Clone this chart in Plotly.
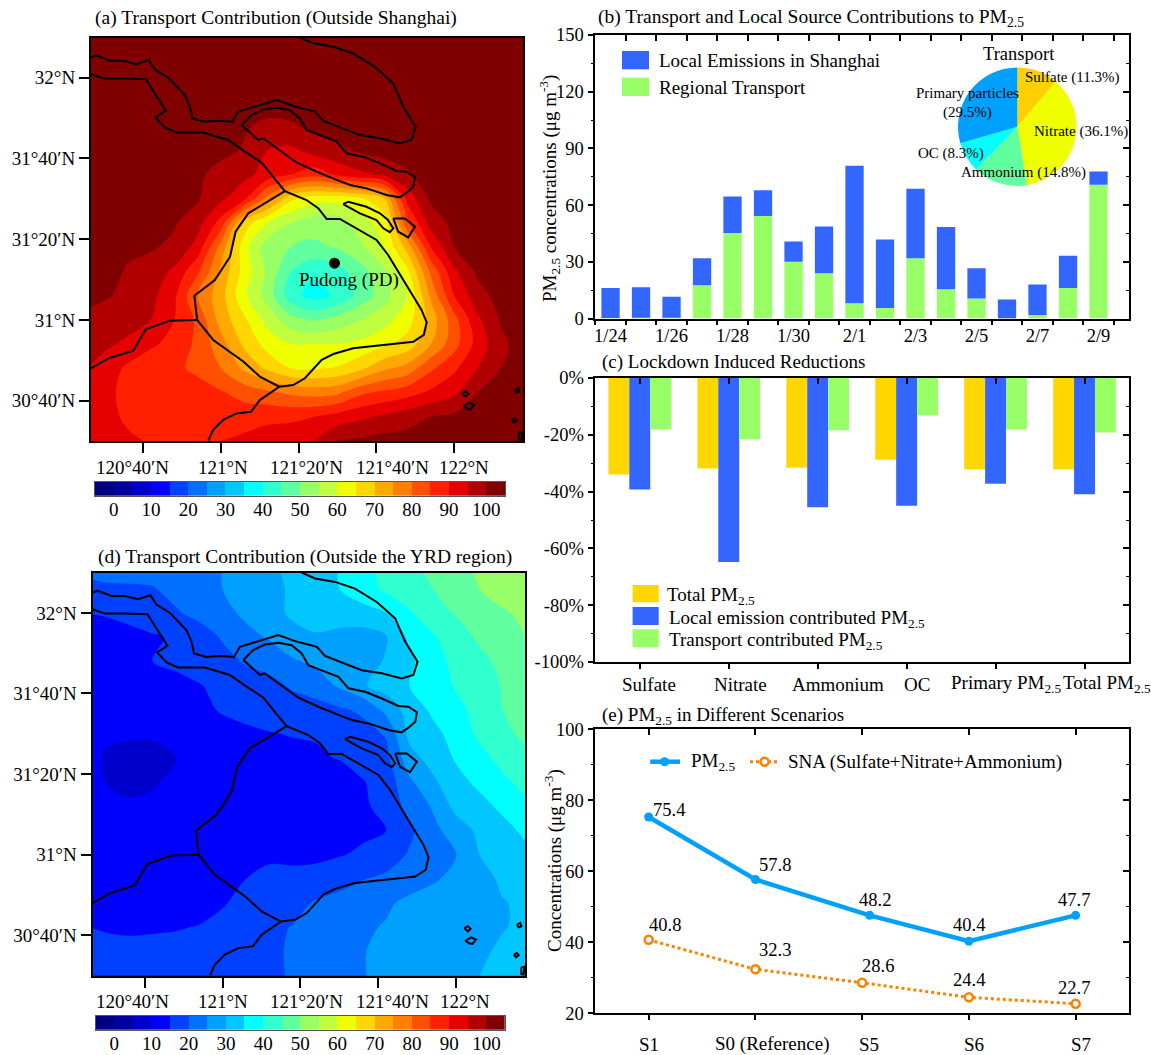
import plotly.graph_objects as go

W, H = 1151, 1055
FONT = "Liberation Serif"

# ---------- data ----------
lon_grid = [120.4, 120.5, 120.6, 120.7, 120.8, 120.9, 121.0, 121.1, 121.2, 121.3,
            121.4, 121.5, 121.6, 121.7, 121.8, 121.9, 122.0, 122.1, 122.2, 122.3]
lat_grid = [32.2, 32.1, 32.0, 31.9, 31.8, 31.7, 31.6, 31.5, 31.4, 31.3, 31.2, 31.1,
            31.0, 30.9, 30.8, 30.7, 30.6, 30.5]

transport_outside_shanghai = [
    [102]*20,
    [102]*20,
    [102]*20,
    [102]*20,
    [102,102,102,102,102,102,102,100.5,99,99.5,101,102,102,102,102,102,102,102,102,102],
    [102,102,102,102,102,102,101.5,99.5,95,94,97,99,101,102,102,102,102,102,102,102],
    [102,102,102,102,102,101,98,96.5,93,90,87,91,94,96,99.5,102,102,102,102,102],
    [102,102,102,102,102,100.5,96,91,78,66,62,62,64,70,92,101,102,102,102,102],
    [102,102,102,101.5,100.5,97,88,68,60,55,52,52,58,62,84,97,101.5,102,102,102],
    [102,102,101,100.5,99,93,78,62,52,50,49,50.5,54,60,72,90,100,102,102,102],
    [102,102,99.5,98,94,86,74,63,54,45,41,43,48,54,64,81,94,101,102,102],
    [102,100.5,99,96.5,91,80,72,61,53,42,38,41,47,53,60,76,90,98,102,102],
    [99,98,97,95,90,84,73,66,58,52,49.5,52,55,58,63,72,83,94,100.5,102],
    [97,96,94,91,88,84,77,69,63,60,60,60,61,64,67,75,83,92,99,102],
    [96,93,89,86,86,84,80,74,69,65,64.5,65.5,69,74,77,84,89,95,100,102],
    [95,92,88,86,86.5,87,85.5,83,81,79,78,79,84,86,88,91,94,100,102,102],
    [95,92,89,86.5,87,88,88,88,89,89,90,92,94,96,98,100,101,102,102,102],
    [95.5,93,91,89.5,89,89,90,91,92,93,95,100,101,102,102,102,102,102,102,102],
]

transport_outside_yrd = [
    [21,21.5,22,22.5,23,23.5,25,27,29,32,34,35,38.5,41,44,46.5,49,50.5,52,54],
    [19,19.5,19.5,19.7,21.5,23.5,25,27,29,30.5,33,35,38,41,43,45,48,50,52,54],
    [15,15.5,16.5,18,19.5,21.5,23.5,26,28,31,32,32.5,33,35,39.5,43,45.5,47.5,49.5,51],
    [12,12.5,13.5,14.5,15.5,17.5,20.5,23.5,25.5,28,29.5,28.5,28,29.5,36,39.5,42.5,46,48,50],
    [11,11,12,15,16.5,18,18.5,20.5,22,24.5,26,27,27.5,30.5,34,38,41.5,43.5,46.5,49],
    [11,11,11.5,12,13,14.7,16.5,17.5,18.5,20.7,22.5,25.7,29.5,32,35,37,40.5,43,45.3,48],
    [10.5,10.5,11,11.5,12,13,15.8,16.5,17,17.5,18,19.3,21,26.5,32,36,38.8,41.5,45,47],
    [10.7,10.6,10.6,10.6,10.6,11,12,14,14.8,15.2,15.3,17,18,20.5,31.5,33.5,37,41,44,46],
    [12,9.6,8.5,8.5,10,11,12.5,13.5,13.5,14,14.5,15.2,17,18.5,28,32,35.5,38.5,41.5,44],
    [12,9.9,8.8,9.5,11,12.5,12.8,12,11.5,11.5,12,13,14.7,17,24,29,33.5,36,39,41.5],
    [11,11,10.7,11,12,13,13.5,13,12.5,12,12,13,14,17,21.5,25.5,31.5,33.5,36,39],
    [11.5,12,12,12.5,13,13.7,14.5,14,13,12.5,13,13.5,14.2,15,19,23.5,27.5,31,33.5,36],
    [12,12.3,12.5,12.5,13,13.5,14.2,14.9,14,13.8,14,14.7,15.7,17.5,20.5,23,24.8,30,32,34],
    [13,13,13,13,13,13.2,13.7,15,16.5,16.5,16.8,18.5,19.8,21,22,24.3,26.5,28,31,33],
    [13.7,13.5,13,12.8,12.8,13.3,14.6,16.5,17.5,18.5,20.5,21.5,22.5,24,26.5,27.5,28,29,29.7,31],
    [15.2,14.6,14.3,14.5,14.7,15.2,16.5,18,19,20.2,21.5,22.5,24,25.5,26.5,27,27.5,28,29.7,31],
    [16.5,16.5,16.3,16.3,16.5,17,18,19,19.5,20.3,21.5,23,24.7,26.5,27.5,27.5,28,29,31,32],
    [17.5,17.5,18,18,18,18.5,19,19.5,19.8,20.1,21.5,23,24.8,26,27,27.5,28,30,31.5,33],
]

level_edges = [-5, 0, 5, 10, 15, 20, 25, 30, 35, 40, 45, 50, 55, 60, 65, 70, 75, 80, 85, 90, 95, 100, 105]
level_mids = [-2.5, 2.5, 7.5, 12.5, 17.5, 22.5, 27.5, 32.5, 37.5, 42.5, 47.5, 52.5, 57.5, 62.5, 67.5,
              72.5, 77.5, 82.5, 87.5, 92.5, 97.5, 102.5]
level_colors = ["#000080", "#00009f", "#0000cc", "#0000ff", "#0040ff", "#0070ff", "#00a0ff",
                "#00c8ff", "#00ffff", "#30ffd0", "#60ff9f", "#99ff66", "#c0ff40", "#f0ff00",
                "#ffd700", "#ffaa00", "#ff8000", "#ff5000", "#ff2000", "#e60000", "#b00000", "#800000"]

# outlines (lon, lat)
north_bank = [(120.443,32.084),(120.467,32.091),(120.524,32.070),(120.581,32.070),(120.638,32.056),
    (120.691,32.073),(120.717,32.034),(120.774,32.000),(120.846,31.928),(120.867,31.880),(120.878,31.832),
    (120.931,31.818),(120.989,31.822),(121.049,31.818),(121.074,31.860),(121.167,31.887),(121.239,31.908),
    (121.310,31.883),(121.403,31.860),(121.439,31.822),(121.524,31.791),(121.596,31.763),(121.682,31.750),
    (121.767,31.729),(121.817,31.743),(121.835,31.798),(121.782,31.880),(121.739,31.977),(121.660,32.045),
    (121.567,32.100),(121.482,32.128),(121.396,32.142),(121.339,32.166)]
south_bank = [(120.443,32.015),(120.496,31.997),(120.581,31.997),(120.678,31.994),(120.764,31.864),
    (120.720,31.836),(120.760,31.795),(120.810,31.774),(120.924,31.774),(121.031,31.743),(121.103,31.695),
    (121.174,31.650),(121.224,31.591),(121.274,31.532)]
shanghai = [(121.274,31.532),(121.367,31.495),(121.417,31.461),(121.453,31.417),(121.510,31.417),
    (121.596,31.371),(121.667,31.330),(121.717,31.268),(121.782,31.165),(121.860,31.041),(121.882,30.990),
    (121.870,30.938),(121.825,30.910),(121.682,30.896),(121.567,30.883),(121.482,30.859),(121.432,30.835),
    (121.360,30.759),(121.310,30.731),(121.250,30.724),(121.167,30.766),(121.096,30.828),(120.967,30.917),
    (120.898,31.000),(120.886,31.100),(120.974,31.165),(121.039,31.261),(121.063,31.364),(121.117,31.440),
    (121.274,31.532)]
chongming = [(121.089,31.805),(121.131,31.846),(121.181,31.869),(121.239,31.876),(121.296,31.866),
    (121.339,31.832),(121.367,31.784),(121.424,31.763),(121.496,31.736),(121.539,31.688),(121.610,31.674),
    (121.682,31.646),(121.753,31.615),(121.796,31.612),(121.832,31.589),(121.825,31.550),(121.796,31.525),
    (121.767,31.506),(121.710,31.516),(121.625,31.543),(121.553,31.557),(121.496,31.578),(121.410,31.612),
    (121.324,31.650),(121.253,31.701),(121.181,31.750),(121.160,31.743),(121.089,31.805)]
changxing = [(121.524,31.478),(121.546,31.488),(121.624,31.467),(121.682,31.440),(121.717,31.412),
    (121.739,31.378),(121.724,31.362),(121.696,31.378),(121.667,31.412),(121.596,31.440),(121.524,31.478)]
hengsha = [(121.739,31.419),(121.789,31.419),(121.832,31.385),(121.803,31.341),(121.760,31.364),(121.739,31.419)]
west_border = [(120.898,31.000),(120.781,30.997),(120.678,30.962),(120.624,30.873),(120.517,30.841),(120.443,30.800)]
south_border = [(121.250,30.724),(121.167,30.669),(121.129,30.621),(121.067,30.614),(121.010,30.587),
    (120.967,30.546),(120.946,30.502)]
island_1 = [(122.035,30.697),(122.050,30.705),(122.062,30.694),(122.050,30.683),(122.035,30.697)]
island_2 = [(122.039,30.645),(122.065,30.658),(122.085,30.649),(122.070,30.631),(122.056,30.634),(122.039,30.645)]
island_3 = [(122.260,30.711),(122.275,30.718),(122.279,30.704),(122.268,30.700),(122.260,30.711)]
island_4 = [(122.248,30.587),(122.260,30.594),(122.268,30.584),(122.256,30.576),(122.248,30.587)]
island_5 = [(122.279,30.535),(122.293,30.537),(122.289,30.504),(122.279,30.507),(122.279,30.535)]
outlines = [north_bank, south_bank, shanghai, chongming, changxing, hengsha, west_border, south_border,
            island_1, island_2, island_3, island_4, island_5]

pudong_lon, pudong_lat = 121.487, 31.234

lon_ticks = [120 + 2/3, 121, 121 + 1/3, 121 + 2/3, 122]
lon_tick_labels = ["120°40′N", "121°N", "121°20′N", "121°40′N", "122°N"]
lat_ticks = [32, 31 + 2/3, 31 + 1/3, 31, 30 + 2/3]
lat_tick_labels = ["32°N", "31°40′N", "31°20′N", "31°N", "30°40′N"]
cbar_ticks = [0, 10, 20, 30, 40, 50, 60, 70, 80, 90, 100]

days = ["1/24", "1/25", "1/26", "1/27", "1/28", "1/29", "1/30", "1/31", "2/1", "2/2", "2/3", "2/4",
        "2/5", "2/6", "2/7", "2/8", "2/9"]
regional_transport = [0.3, 0.4, 0.4, 17.6, 45.2, 54.2, 30, 24, 8.1, 5.5, 31.9, 15.5, 10.6, 0, 1.8, 16.2, 70.8]
local_emissions = [15.9, 16.2, 11.1, 14.3, 19.4, 13.6, 10.8, 24.7, 72.7, 36.3, 36.7, 32.9, 16, 10.1, 16.2, 17, 7]

pie_labels = ["Sulfate", "Nitrate", "Ammonium", "OC", "Primary particles"]
pie_values = [11.3, 36.1, 14.8, 8.3, 29.5]
pie_colors = ["#ffd000", "#f0ff00", "#60ff9f", "#00ffff", "#00a0ff"]

species = ["Sulfate", "Nitrate", "Ammonium", "OC", "Primary PM<sub>2.5</sub>", "Total PM<sub>2.5</sub>"]
total_red = [-34, -31.9, -31.6, -28.8, -32.2, -32.2]
local_red = [-39.3, -64.8, -45.5, -45, -37.2, -40.9]
transport_red = [-18.1, -21.6, -18.4, -13.1, -18.1, -19.2]

scenarios = ["S1", "S0 (Reference)", "S5", "S6", "S7"]
pm25_x = [0, 1, 2.07, 3, 4]
pm25_values = [75.3, 57.7, 47.6, 40.3, 47.6]
pm25_labels = ["75.4", "57.8", "48.2", "40.4", "47.7"]
sna_values = [40.7, 32.4, 28.6, 24.5, 22.7]
sna_labels = ["40.8", "32.3", "28.6", "24.4", "22.7"]

# ---------- helpers ----------
def fx(p): return p / W
def fy(p): return 1 - p / H

annotations, shapes = [], []

def label(text, x, y, size=19, anchor="left", angle=0):
    annotations.append(dict(text=text, x=fx(x), y=fy(y), xref="paper", yref="paper", xanchor=anchor,
                            yanchor="middle", showarrow=False, textangle=angle,
                            font=dict(size=size, family=FONT, color="black")))

def rect(x0, x1, y0, y1, color):
    shapes.append(dict(type="rect", xref="paper", yref="paper", x0=fx(x0), x1=fx(x1), y0=fy(y1), y1=fy(y0),
                       fillcolor=color, line=dict(width=0)))

scale = []
for i, c in enumerate(level_colors):
    scale += [[i / 22, c], [(i + 1) / 22, c]]

def map_axes(x0, x1, y0, y1):
    common = dict(showgrid=False, zeroline=False, showline=True, mirror=True, linecolor="black", linewidth=2,
                  ticks="outside", ticklen=10, tickwidth=1.5, tickcolor="black", automargin=False,
                  tickfont=dict(size=19, family=FONT, color="black"))
    xa = dict(common, domain=[fx(x0), fx(x1)], range=[120.443, 122.295], tickmode="array",
              tickvals=lon_ticks, showticklabels=False)
    ya = dict(common, domain=[fy(y1), fy(y0)], range=[30.5, 32.166], tickmode="array",
              tickvals=lat_ticks, ticktext=lat_tick_labels)
    return xa, ya

traces = []

def add_map(z, xa, ya):
    traces.append(go.Contour(x=lon_grid, y=lat_grid[::-1], z=z[::-1], xaxis=xa, yaxis=ya, colorscale=scale,
        autocontour=False, contours=dict(start=0, end=100, size=5, coloring="fill", showlines=False),
        line=dict(width=0), hoverinfo="skip", zmin=-5, zmax=105, showscale=False))
    for path in outlines:
        traces.append(go.Scatter(x=[p[0] for p in path], y=[p[1] for p in path], xaxis=xa, yaxis=ya,
                                 mode="lines", line=dict(color="black", width=2), hoverinfo="skip"))

def add_colorbar(n, x0, x1, y0, y1):
    layout[f"xaxis{n}"] = dict(domain=[fx(x0), fx(x1)], range=[-5, 105], anchor=f"y{n}", showgrid=False,
                               zeroline=False, showline=True, mirror=True, linecolor="#555555", linewidth=1,
                               tickmode="array", tickvals=cbar_ticks, ticks="", automargin=False,
                               ticklabelstandoff=-4,
                               tickfont=dict(size=19, family=FONT, color="black"))
    layout[f"yaxis{n}"] = dict(domain=[fy(y1), fy(y0)], range=[0, 1], anchor=f"x{n}", showgrid=False,
                               zeroline=False, showline=True, mirror=True, linecolor="#555555", linewidth=1,
                               ticks="", showticklabels=False, automargin=False)
    traces.append(go.Heatmap(x=level_edges, y=[0, 1], z=[level_mids], colorscale=scale, zmin=-5, zmax=105,
                             showscale=False, hoverinfo="skip", xaxis=f"x{n}", yaxis=f"y{n}"))

layout = dict(width=W, height=H, margin=dict(l=0, r=0, t=0, b=0, pad=0, autoexpand=False), autosize=False,
              showlegend=False, template="none",
              paper_bgcolor="white", plot_bgcolor="white", font=dict(family=FONT, size=18, color="black"))

# ---------- maps ----------
layout["xaxis"], layout["yaxis"] = map_axes(91, 523, 37.5, 441)
layout["xaxis2"], layout["yaxis2"] = map_axes(92.5, 525, 572.7, 975.7)
layout["xaxis"]["anchor"] = "y"
layout["xaxis2"]["anchor"] = "y2"
layout["yaxis2"]["anchor"] = "x2"
add_map(transport_outside_shanghai, "x", "y")
add_map(transport_outside_yrd, "x2", "y2")
add_colorbar(9, 95, 505, 481.7, 496)
add_colorbar(10, 95.7, 505, 1015.7, 1030)
traces.append(go.Scatter(x=[pudong_lon], y=[pudong_lat], xaxis="x", yaxis="y", mode="markers",
                         marker=dict(color="black", size=11), hoverinfo="skip"))
annotations.append(dict(text="Pudong (PD)", x=121.547, y=31.165, xref="x", yref="y", showarrow=False,
                        font=dict(size=19, family=FONT, color="black")))
for txt, cx in zip(lon_tick_labels, [132, 222.7, 306, 392, 464]):
    label(txt, cx, 467, 19, "center")
    label(txt, cx + 0.5, 1001, 19, "center")

# ---------- chart axes ----------
def chart_axes(n, ov, x0, x1, y0, y1, xr, yr, xticks, yticks, yminor, xlabels=None, xminor=None):
    base = dict(showgrid=False, zeroline=False, showline=True, mirror=True, linecolor="black", linewidth=1.5,
                tickcolor="black", tickwidth=1.5, automargin=False, tickfont=dict(size=18.5, family=FONT, color="black"))
    dom_x, dom_y = [fx(x0), fx(x1)], [fy(y1), fy(y0)]
    xa = dict(base, domain=dom_x, range=xr, anchor=f"y{n}", tickmode="array", tickvals=xticks, ticks="outside",
              ticklen=5)
    if xlabels:
        xa.update(ticktext=xlabels, ticks="", minor=dict(tickmode="array", tickvals=xminor, ticks="outside",
                                                         ticklen=5, tickcolor="black", tickwidth=1.5))
    else:
        xa.update(showticklabels=False)
    ya = dict(base, domain=dom_y, range=yr, anchor=f"x{n}", tickmode="array", tickvals=yticks, ticks="outside",
              ticklen=6, minor=dict(tickmode="array", tickvals=yminor, ticks="outside", ticklen=3,
                                    tickcolor="black", tickwidth=1.2))
    layout[f"xaxis{n}"], layout[f"yaxis{n}"] = xa, ya
    ticks_top = xminor if xminor else xticks
    layout[f"xaxis{ov}"] = dict(domain=dom_x, range=xr, anchor=f"y{ov}", overlaying=f"x{n}", side="top",
                                showgrid=False, zeroline=False, showticklabels=False, showline=False,
                                tickmode="array", tickvals=ticks_top, ticks="inside", ticklen=6,
                                tickcolor="black", tickwidth=1.5, automargin=False)
    layout[f"yaxis{ov}"] = dict(domain=dom_y, range=yr, anchor=f"x{ov}", overlaying=f"y{n}", side="right",
                                showgrid=False, zeroline=False, showticklabels=False, showline=False,
                                tickmode="array", tickvals=yticks, ticks="inside", ticklen=6,
                                tickcolor="black", tickwidth=1.5, automargin=False,
                                minor=dict(tickmode="array", tickvals=yminor, ticks="inside", ticklen=3,
                                           tickcolor="black", tickwidth=1.2))
    traces.append(go.Scatter(x=[None], y=[None], xaxis=f"x{ov}", yaxis=f"y{ov}", mode="lines", hoverinfo="skip"))

BLUE, GREEN, GOLD = "#3366ff", "#99ff66", "#ffd700"
PX0, PX1 = 595.3, 1129

# panel b
day_idx = list(range(len(days)))
chart_axes(3, 6, PX0, PX1, 35, 318.5, [-0.5, 17], [0, 150],
           day_idx[::2], [0, 30, 60, 90, 120, 150], [15, 45, 75, 105, 135],
           xlabels=days[::2], xminor=[k - 0.5 for k in range(18)])
traces.append(go.Bar(x=day_idx, y=regional_transport, xaxis="x3", yaxis="y3", marker=dict(color=GREEN, line=dict(width=0)), width=0.6))
traces.append(go.Bar(x=day_idx, y=local_emissions, xaxis="x3", yaxis="y3", marker=dict(color=BLUE, line=dict(width=0)), width=0.6,
                     base=regional_transport))
traces.append(go.Pie(labels=pie_labels, values=pie_values, sort=False, direction="clockwise", rotation=0,
                     marker=dict(colors=pie_colors, line=dict(width=0)), textinfo="none", hoverinfo="skip",
                     domain=dict(x=[fx(1017.3 - 59.3), fx(1017.3 + 59.3)], y=[fy(126.7 + 59.3), fy(126.7 - 59.3)])))
layout["barmode"] = "overlay"

# panel c
cat_idx = list(range(len(species)))
chart_axes(4, 7, PX0, PX1, 378, 662, [-0.5, 5.5], [-100, 0],
           cat_idx, [-100, -80, -60, -40, -20, 0], [-90, -70, -50, -30, -10])
layout["yaxis4"].update(ticktext=["-100%", "-80%", "-60%", "-40%", "-20%", "0%"])
for vals, col, shift in ((total_red, GOLD, -0.235), (local_red, BLUE, 0), (transport_red, GREEN, 0.235)):
    traces.append(go.Bar(x=[k + shift for k in cat_idx], y=vals, xaxis="x4", yaxis="y4", width=0.235,
                         marker=dict(color=col, line=dict(width=0))))

# panel e
chart_axes(5, 8, PX0, PX1, 729.3, 1013.3, [-0.5, 4.5], [20, 100],
           list(range(5)), [20, 40, 60, 80, 100], [30, 50, 70, 90])
traces.append(go.Scatter(x=pm25_x, y=pm25_values, xaxis="x5", yaxis="y5", mode="lines+markers",
                         line=dict(color="#00a0ff", width=4.5), marker=dict(color="#00a0ff", size=9)))
traces.append(go.Scatter(x=list(range(5)), y=sna_values, xaxis="x5", yaxis="y5", mode="lines+markers",
                         line=dict(color="#ff8000", width=3, dash="dot"),
                         marker=dict(color="white", size=8, line=dict(color="#ff8000", width=2.5))))
for xs, ys, labs, offs in ((pm25_x, pm25_values, pm25_labels, [(20.6, 7), (19.5, 14), (5, 15), (0, 16), (-2, 15)]),
                           (list(range(5)), sna_values, sna_labels, [(16, 15), (19.5, 19), (16, 17), (0, 17), (-2, 16)])):
    for xv, yv, t, (dx, dy) in zip(xs, ys, labs, offs):
        annotations.append(dict(text=t, x=xv, y=yv, xref="x5", yref="y5", xshift=dx, yshift=dy, showarrow=False,
                                font=dict(size=18.5, family=FONT, color="black")))

# ---------- text ----------
label("(a) Transport Contribution (Outside Shanghai)", 93, 17.5, 19.5)
label("(d) Transport Contribution (Outside the YRD region)", 95.7, 556.7, 19.5)
label("(b) Transport and Local Source Contributions to PM<sub>2.5</sub>", 595.7, 17.5, 19.5)
label("(c) Lockdown Induced Reductions", 599.6, 361.7, 19)
label("(e) PM<sub>2.5</sub> in Different Scenarios", 600, 716, 19)
label("PM<sub>2.5</sub> concentrations (μg m<sup>-3</sup>)", 550, 189, 19, "center", -90)
label("Concentrations (μg m<sup>-3</sup>)", 553, 861, 19, "center", -90)

# pie labels
label("Transport", 1019.3, 54.3, 18.5, "center")
label("Sulfate (11.3%)", 1022.7, 77.7, 15)
label("Primary particles", 967.7, 93.3, 15, "center")
label("(29.5%)", 967.7, 112.3, 15, "center")
label("Nitrate (36.1%)", 1081.3, 131.7, 15, "center")
label("OC (8.3%)", 950.7, 153.3, 15, "center")
label("Ammonium (14.8%)", 1024, 172.7, 15, "center")

# legends
rect(622, 649, 51, 69.3, BLUE)
rect(622, 649, 77.7, 96, GREEN)
label("Local Emissions in Shanghai", 657, 60, 19)
label("Regional Transport", 657, 88, 19)

rect(632.6, 658.7, 585, 602.3, GOLD)
rect(632.6, 658.7, 607, 625, BLUE)
rect(632.6, 658.7, 629.3, 647.3, GREEN)
label("Total PM<sub>2.5</sub>", 665.3, 596, 19)
label("Local emission contributed PM<sub>2.5</sub>", 667.3, 619, 19)
label("Transport contributed PM<sub>2.5</sub>", 667.3, 641, 19)

shapes.append(dict(type="line", xref="paper", yref="paper", x0=fx(650.2), x1=fx(680), y0=fy(761.7), y1=fy(761.7),
                   line=dict(color="#00a0ff", width=4.5)))
shapes.append(dict(type="circle", xref="paper", yref="paper", x0=fx(660.1), x1=fx(669.1), y0=fy(766.2), y1=fy(757.2),
                   fillcolor="#00a0ff", line=dict(width=0)))
shapes.append(dict(type="line", xref="paper", yref="paper", x0=fx(750), x1=fx(777.4), y0=fy(761.7), y1=fy(761.7),
                   line=dict(color="#ff8000", width=3, dash="dot")))
shapes.append(dict(type="circle", xref="paper", yref="paper", x0=fx(760.6), x1=fx(768.6), y0=fy(765.7), y1=fy(757.7),
                   fillcolor="white", line=dict(color="#ff8000", width=2.5)))
label("PM<sub>2.5</sub>", 688.7, 762, 19)
label("SNA (Sulfate+Nitrate+Ammonium)", 786, 761.7, 19)

# category labels for c and e
for txt, cx in zip(species, [649, 740.5, 838.2, 916.8, 1006, 1107.3]):
    label(txt, cx, 684, 19, "center")
for txt, cx in zip(scenarios, [649, 771.6, 869, 974, 1081]):
    label(txt, cx, 1044, 19, "center")

layout["annotations"] = annotations
layout["shapes"] = shapes

fig = go.Figure(data=traces, layout=layout)
fig.write_html("out.html", post_script="document.body.style.margin='0';", config={"displayModeBar": False})
